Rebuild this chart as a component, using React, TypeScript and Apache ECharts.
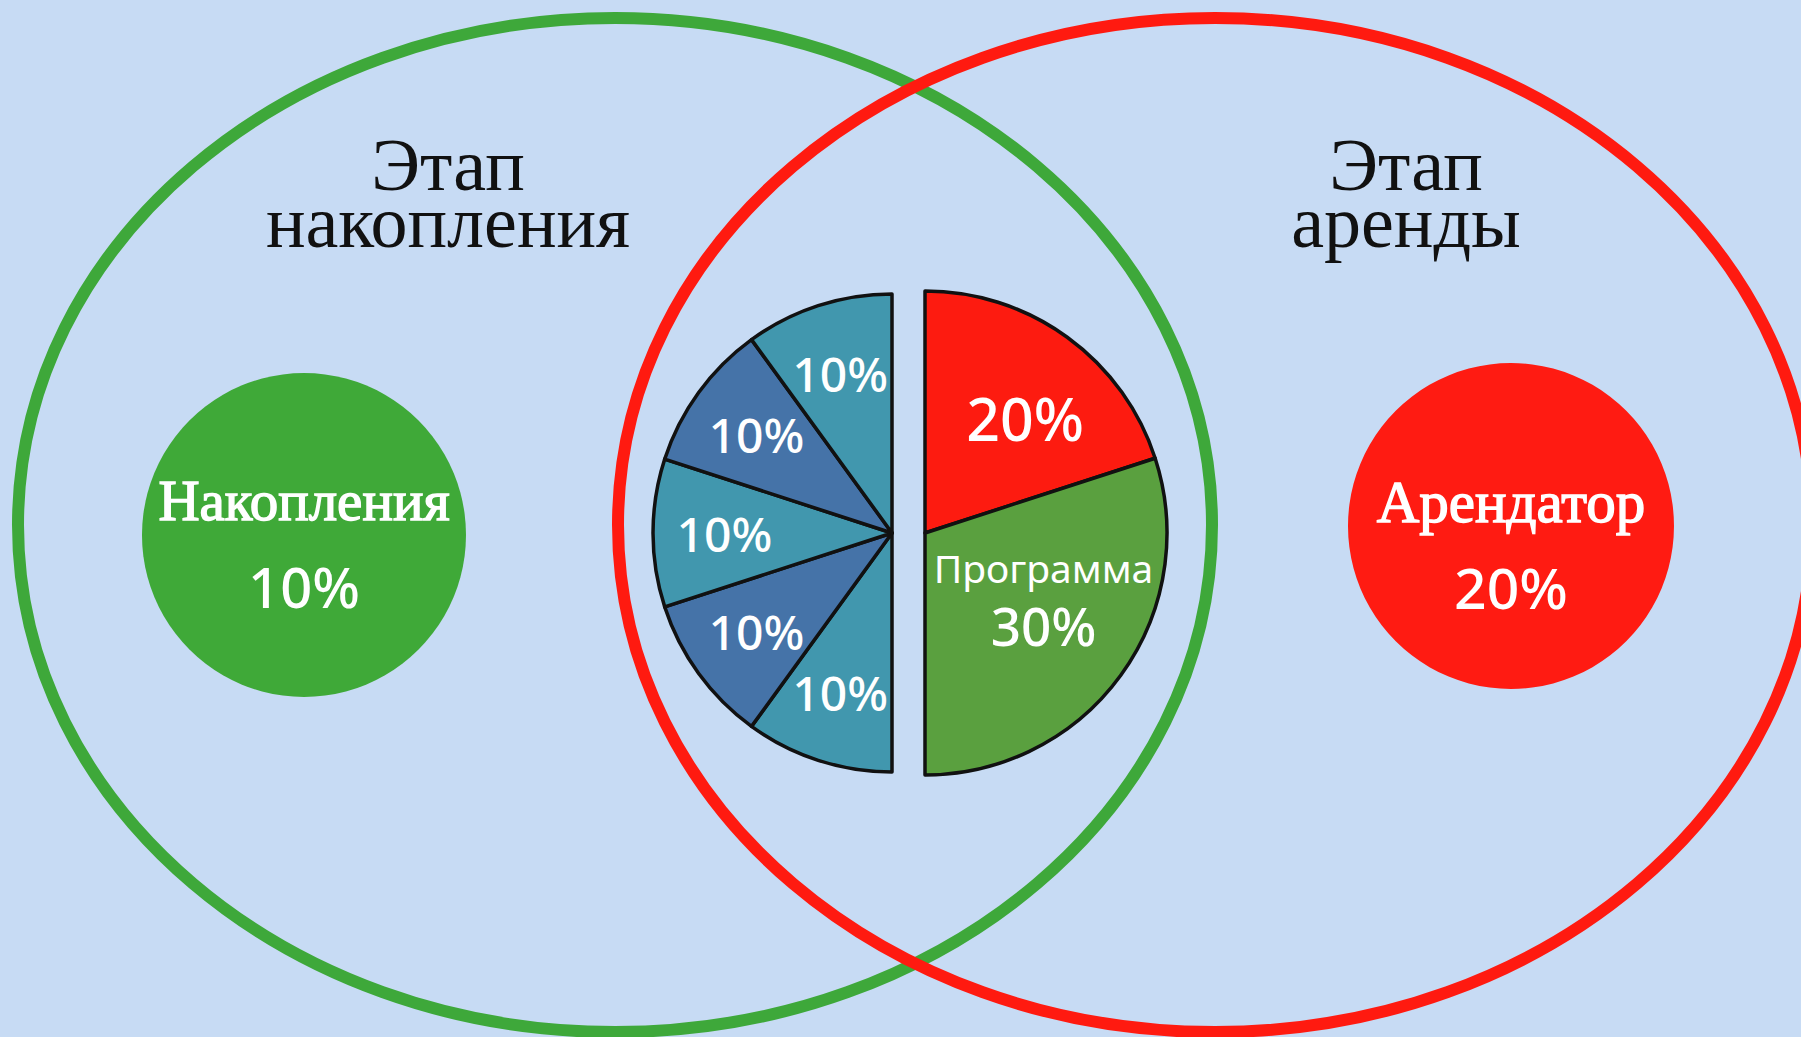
import React, { useEffect, useRef } from "react";
import * as echarts from "echarts";

// ---- data ----
const stageTitles = ["Этап\nнакопления", "Этап\nаренды"];
const accumNames = ["Накопления"];
const accumValues = [10];
const tenantNames = ["Арендатор"];
const tenantValues = [20];
const leftSliceNames = ["Взнос 1", "Взнос 2", "Взнос 3", "Взнос 4", "Взнос 5"];
const leftSliceValues = [10, 10, 10, 10, 10];
const rightSliceNames = ["Арендатор", "Программа"];
const rightSliceValues = [20, 30];

// ---- styles ----
const W = 1801;
const H = 1037;
const SERIF = "'Liberation Serif', 'DejaVu Serif', serif";
const SANS = "'Noto Sans', 'Open Sans', sans-serif";
const GREEN = "#3fa938";
const RED = "#ff1b12";
const leftColors = ["#4197ae", "#4573a8", "#4197ae", "#4573a8", "#4197ae"];
const rightColors = ["#fd1b10", "#5aa03f"];
const rightLabelOffsets = [[14, 4], [0, -22]];
const R = 239;
const leftCenter = [892, 533];
const rightCenter = [925, 533];

export default function App() {
  const ref = useRef<HTMLDivElement>(null);

  useEffect(() => {
    if (!ref.current) return;
    document.body.style.margin = "0";
    const chart = echarts.init(ref.current, undefined, { renderer: "svg" });

    const sliceBorder = { borderColor: "#111111", borderWidth: 3.5 };
    const commonPie = {
      type: "pie",
      silent: true,
      animation: false,
      emphasis: { disabled: true },
      labelLine: { show: false },
    };
    const whiteBold = { textBorderColor: "#ffffff", textBorderWidth: 1.4 };

    const option: any = {
      animation: false,
      backgroundColor: "#c7dbf4",
      tooltip: { show: false },
      graphic: [
        {
          type: "ellipse",
          z: 1,
          shape: { cx: 615, cy: 525, rx: 597, ry: 507 },
          style: { fill: "none", stroke: "#3ea83a", lineWidth: 12 },
        },
        {
          type: "ellipse",
          z: 2,
          shape: { cx: 1215, cy: 525, rx: 597, ry: 507 },
          style: { fill: "none", stroke: "#ff1a10", lineWidth: 12 },
        },
        {
          type: "text",
          z: 3,
          x: 448,
          y: 193,
          style: {
            text: stageTitles[0],
            font: `74px ${SERIF}`,
            fill: "#111111",
            textAlign: "center",
            textVerticalAlign: "middle",
            lineHeight: 57,
          },
        },
        {
          type: "text",
          z: 3,
          x: 1406,
          y: 193,
          style: {
            text: stageTitles[1],
            font: `74px ${SERIF}`,
            fill: "#111111",
            textAlign: "center",
            textVerticalAlign: "middle",
            lineHeight: 57,
          },
        },
      ],
      series: [
        {
          ...commonPie,
          name: "accum",
          z: 5,
          center: [304, 535],
          radius: [0, 162],
          data: accumNames.map((n, i) => ({ name: n, value: accumValues[i] })),
          itemStyle: { color: GREEN },
          label: {
            show: true,
            position: "center",
            padding: [16, 0, 0, 0],
            formatter: "{n|{b}}\n{v|{c}%}",
            rich: {
              n: { fontFamily: SERIF, fontSize: 57, color: "#fff", lineHeight: 85, ...whiteBold },
              v: { fontFamily: SANS, fontSize: 56, fontWeight: 500, color: "#fff", lineHeight: 85 },
            },
          },
        },
        {
          ...commonPie,
          name: "tenant",
          z: 5,
          center: [1511, 526],
          radius: [0, 163],
          data: tenantNames.map((n, i) => ({ name: n, value: tenantValues[i] })),
          itemStyle: { color: RED },
          label: {
            show: true,
            position: "center",
            padding: [36, 0, 0, 0],
            formatter: "{n|{b}}\n{v|{c}%}",
            rich: {
              n: { fontFamily: SERIF, fontSize: 59, color: "#fff", lineHeight: 85, ...whiteBold },
              v: { fontFamily: SANS, fontSize: 57, fontWeight: 500, color: "#fff", lineHeight: 85 },
            },
          },
        },
        {
          ...commonPie,
          name: "left",
          z: 6,
          center: leftCenter,
          radius: [0, R],
          startAngle: 270,
          endAngle: 90,
          clockwise: true,
          data: leftSliceValues.map((v, i) => ({
            name: leftSliceNames[i],
            value: v,
            itemStyle: { color: leftColors[i] },
          })),
          itemStyle: sliceBorder,
          label: { show: false },
        },
        {
          ...commonPie,
          name: "leftLabels",
          z: 7,
          center: leftCenter,
          radius: [90, R],
          startAngle: 270,
          endAngle: 90,
          clockwise: true,
          data: leftSliceValues.map((v, i) => ({ name: leftSliceNames[i], value: v })),
          itemStyle: { color: "rgba(0,0,0,0)", borderWidth: 0 },
          label: {
            show: true,
            position: "inside",
            rotate: 0,
            formatter: "{c}%",
            fontFamily: SANS,
            fontSize: 48,
            fontWeight: 500,
            color: "#ffffff",
          },
        },
        {
          ...commonPie,
          name: "right",
          z: 6,
          center: rightCenter,
          radius: [0, R + 3],
          startAngle: 90,
          endAngle: -90,
          clockwise: true,
          data: rightSliceValues.map((v, i) => ({
            name: rightSliceNames[i],
            value: v,
            itemStyle: { color: rightColors[i] },
          })),
          itemStyle: sliceBorder,
          label: { show: false },
        },
        {
          ...commonPie,
          name: "rightLabels",
          z: 7,
          center: rightCenter,
          radius: [48, R],
          startAngle: 90,
          endAngle: -90,
          clockwise: true,
          data: rightSliceValues.map((v, i) => ({
            name: rightSliceNames[i],
            value: v,
            label: { offset: rightLabelOffsets[i] },
          })),
          itemStyle: { color: "rgba(0,0,0,0)", borderWidth: 0 },
          label: {
            show: true,
            position: "inside",
            rotate: 0,
            formatter: (p: any) =>
              p.dataIndex === 0 ? `{big|${p.value}%}` : `{n|${p.name}}\n{v|${p.value}%}`,
            rich: {
              big: { fontFamily: SANS, fontSize: 59, fontWeight: 500, color: "#fff" },
              n: { fontFamily: SANS, fontSize: 39, color: "#fff", lineHeight: 56 },
              v: { fontFamily: SANS, fontSize: 53, fontWeight: 500, color: "#fff", lineHeight: 60 },
            },
          },
        },
      ],
    };

    chart.setOption(option);
    return () => chart.dispose();
  }, []);

  return (
    <div
      ref={ref}
      style={{ position: "fixed", left: 0, top: 0, width: W, height: H }}
    />
  );
}
